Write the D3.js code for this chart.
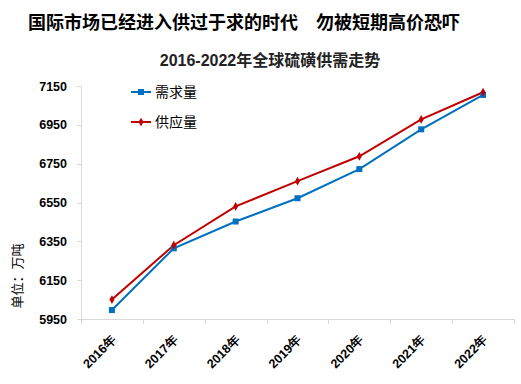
<!DOCTYPE html>
<html lang="zh">
<head>
<meta charset="utf-8">
<title>2016-2022年全球硫磺供需走势</title>
<script src="https://d3js.org/d3.v7.min.js"></script>
<style>
    body { margin: 0; background: white; }
    .axis path, .axis line { fill: none; stroke: #d9d9d9; stroke-width: 1px; shape-rendering: crispEdges; }
    .axis text { font-family: "Liberation Sans", Arial, sans-serif; font-weight: bold; font-size: 12.5px; fill: #000; }
    .line { fill: none; stroke-width: 2px; }
</style>
</head>
<body>
<svg width="521" height="384"></svg>
<script>
// data (unit: 万吨)
var years = ["2016年", "2017年", "2018年", "2019年", "2020年", "2021年", "2022年"];
var demand = [5996, 6314, 6452, 6572, 6722, 6927, 7104];   // 需求量
var supply = [6050, 6330, 6530, 6660, 6788, 6978, 7118];   // 供应量
var yTicks = [5950, 6150, 6350, 6550, 6750, 6950, 7150];

var svg = d3.select("svg");
var margin = {top: 86, right: 7, bottom: 65, left: 81},
    width = 521 - margin.left - margin.right,
    height = 384 - margin.top - margin.bottom;

var g = svg.append("g").attr("transform", "translate(" + margin.left + "," + margin.top + ")");

var x = d3.scaleBand().domain(years).range([0, width]);
var y = d3.scaleLinear().domain([5950, 7150]).range([height, 0]);

// titles
svg.append("text")
    .attr("x", 28).attr("y", 29)
    .attr("font-family", "'Liberation Serif', 'Noto Sans CJK SC', serif")
    .attr("font-weight", "bold")
    .attr("font-size", "18px")
    .text("国际市场已经进入供过于求的时代\u3000勿被短期高价恐吓");

svg.append("text")
    .attr("x", 270).attr("y", 66)
    .attr("text-anchor", "middle")
    .attr("font-family", "'Liberation Sans', 'Noto Sans CJK SC', sans-serif")
    .attr("font-weight", "bold")
    .attr("font-size", "16px")
    .attr("fill", "#222")
    .text("2016-2022年全球硫磺供需走势");

// axes
g.append("g")
    .attr("class", "axis")
    .call(d3.axisLeft(y).tickValues(yTicks).tickSize(4).tickPadding(10).tickFormat(d3.format("d")));

var xAxis = g.append("g")
    .attr("class", "axis")
    .attr("transform", "translate(0," + height + ")")
    .call(d3.axisBottom(x).tickSize(0).tickFormat(""));

// ticks at band edges
xAxis.selectAll(".edge")
    .data(years.concat([null]))
    .enter().append("line")
    .attr("x1", function(d, i) { return Math.round(i * x.step()) + 0.5; })
    .attr("x2", function(d, i) { return Math.round(i * x.step()) + 0.5; })
    .attr("y1", 0).attr("y2", 5)
    .attr("stroke", "#d9d9d9");

xAxis.selectAll(".lbl")
    .data(years)
    .enter().append("text")
    .attr("transform", function(d) {
        return "translate(" + (x(d) + x.bandwidth() / 2 - 1) + ",15) rotate(-45)";
    })
    .attr("text-anchor", "end")
    .attr("dy", "0.7em")
    .attr("font-family", "'Liberation Sans', 'Noto Sans CJK SC', sans-serif")
    .attr("font-weight", "bold")
    .attr("font-size", "13px")
    .text(function(d) { return d; });

// y label
svg.append("text")
    .attr("transform", "translate(22,276) rotate(-90)")
    .attr("text-anchor", "middle")
    .attr("font-family", "'Liberation Serif', 'Noto Sans CJK SC', serif")
    .attr("font-size", "13px")
    .text("单位：万吨");

var line = d3.line()
    .x(function(d, i) { return x(years[i]) + x.bandwidth() / 2; })
    .y(function(d) { return y(d); });

g.append("path").datum(demand).attr("class", "line").attr("stroke", "#0070c0").attr("d", line);
g.append("path").datum(supply).attr("class", "line").attr("stroke", "#c00000").attr("d", line);

g.selectAll(".dsq")
    .data(demand)
    .enter().append("rect")
    .attr("x", function(d, i) { return x(years[i]) + x.bandwidth() / 2 - 3; })
    .attr("y", function(d) { return y(d) - 3; })
    .attr("width", 6).attr("height", 6)
    .attr("fill", "#0070c0");

var star = d3.symbol().type(d3.symbolDiamond).size(22);
g.selectAll(".sdm")
    .data(supply)
    .enter().append("path")
    .attr("d", star)
    .attr("transform", function(d, i) { return "translate(" + (x(years[i]) + x.bandwidth() / 2) + "," + y(d) + ")"; })
    .attr("fill", "#c00000");

// legend
var legend = [
    {name: "需求量", color: "#0070c0", sym: "sq", y: 92},
    {name: "供应量", color: "#c00000", sym: "dm", y: 122}
];
var lg = svg.selectAll(".lg").data(legend).enter().append("g")
    .attr("transform", function(d) { return "translate(131," + d.y + ")"; });
lg.append("line").attr("x1", 0).attr("x2", 20).attr("stroke", function(d) { return d.color; }).attr("stroke-width", 2);
lg.filter(function(d) { return d.sym === "sq"; }).append("rect")
    .attr("x", 7).attr("y", -3).attr("width", 6).attr("height", 6).attr("fill", function(d) { return d.color; });
lg.filter(function(d) { return d.sym === "dm"; }).append("path")
    .attr("d", star).attr("transform", "translate(10,0)").attr("fill", function(d) { return d.color; });
lg.append("text")
    .attr("x", 24).attr("dy", "0.36em")
    .attr("font-family", "'Liberation Serif', 'Noto Sans CJK SC', serif")
    .attr("font-size", "14px")
    .text(function(d) { return d.name; });
</script>
</body>
</html>
